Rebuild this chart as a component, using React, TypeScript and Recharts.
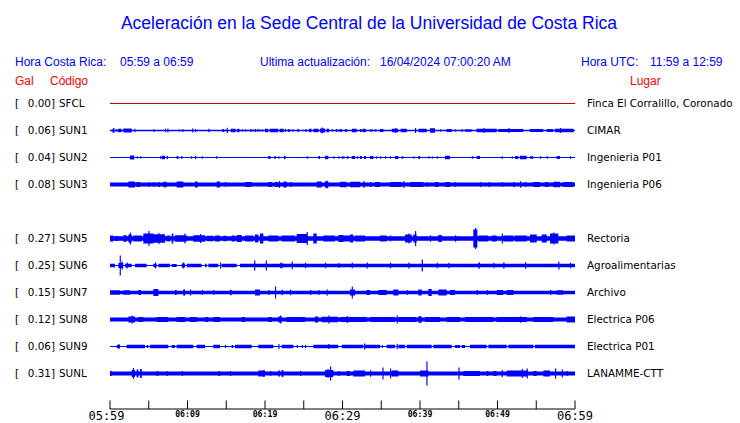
import React from 'react'
import { ComposedChart, Area, XAxis, YAxis } from 'recharts'

const title = 'Aceleración en la Sede Central de la Universidad de Costa Rica'
const localRange = '05:59 a 06:59'
const utcRange = '11:59 a 12:59'
const updated = '16/04/2024 07:00:20 AM'

const codes = ['SFCL', 'SUN1', 'SUN2', 'SUN3', 'SUN5', 'SUN6', 'SUN7', 'SUN8', 'SUN9', 'SUNL']
const rows = [0, 1, 2, 3, 5, 6, 7, 8, 9, 10]
const gal = ['0.00', '0.06', '0.04', '0.08', '0.27', '0.25', '0.15', '0.12', '0.06', '0.31']
const places = ['Finca El Corralillo, Coronado', 'CIMAR', 'Ingenieria P01', 'Ingenieria P06', 'Rectoria',
  'Agroalimentarias', 'Archivo', 'Electrica P06', 'Electrica P01', 'LANAMME-CTT']
// half width of the quiet trace
const base = [0.5, 0.7, 0.6, 2.0, 2.3, 0.6, 1.7, 1.9, 0.6, 2.0]

// trace envelope: [from, to, half amplitude] or [time, half amplitude] for a single spike
// time in minutes after 05:59
const sfcl: number[][] = []
const sun1: number[][] = [
  [0.3, 0.55, 1.7], [0.43, 2.5], [0.75, 0.86, 1.5], [1.0, 1.5, 1.7], [1.72, 2.8, 2.0], [3.14, 1.8],
  [5.6, 5.8, 1.3], [7.1, 7.2, 2.0], [7.4, 2.0], [8.9, 9.0, 1.3], [9.35, 1.5], [10.6, 2.0], [10.97, 1.5], [12.7, 1.8],
  [14.5, 14.75, 1.5], [15.05, 2.8], [15.6, 16.2, 1.8], [16.4, 16.7, 1.8], [17.0, 1.2], [17.42, 1.2], [18.1, 1.5],
  [18.35, 1.2], [18.7, 1.5], [18.97, 1.2], [19.2, 1.2], [19.57, 1.3],
  [20.0, 20.4, 1.7], [20.6, 21.7, 1.8], [21.9, 22.4, 1.7], [22.58, 1.5], [23.0, 23.2, 1.6], [23.5, 1.2], [24.2, 1.8],
  [25.2, 25.4, 1.3], [25.7, 26.0, 1.7], [26.25, 26.9, 1.8], [27.1, 27.75, 2.0], [27.3, 3.0], [27.95, 28.25, 1.7],
  [28.6, 1.3], [29.15, 1.5], [29.46, 1.3],
  [29.68, 29.9, 1.5], [30.33, 30.54, 1.5], [31.2, 31.83, 1.7], [32.26, 32.48, 1.5], [32.6, 33.0, 1.7], [33.55, 1.3],
  [33.77, 1.3], [34.2, 1.3], [34.84, 35.27, 1.5], [36.35, 37.2, 1.8], [36.8, 2.5], [37.5, 38.28, 1.7], [39.36, 2.5],
  [39.8, 40.86, 1.7], [41.29, 41.94, 2.2], [42.58, 1.3], [43.44, 44.09, 1.5], [44.52, 1.3], [45.38, 1.3],
  [45.81, 46.67, 1.3], [47.3, 49.9, 1.7], [48.17, 2.5], [50.1, 53.3, 1.6], [51.4, 2.5], [54.2, 55.9, 1.6],
  [56.35, 57.2, 1.4], [57.42, 59.8, 1.8], [58.06, 2.5],
]
const sun2: number[][] = [
  [2.58, 3.14, 2.0], [3.44, 1.3], [3.87, 1.3], [6.45, 1.3], [6.67, 7.1, 1.7], [7.31, 1.7], [8.6, 8.82, 1.5],
  [9.2, 9.35, 1.5], [10.45, 1.2], [10.97, 1.5], [11.83, 1.3], [13.67, 1.3], [20.43, 20.7, 1.5], [21.2, 21.37, 1.5],
  [21.72, 1.3], [22.45, 22.65, 1.7], [25.38, 1.2], [26.88, 27.1, 1.5], [27.74, 28.17, 1.8], [28.82, 1.2], [29.46, 1.2],
  [29.9, 1.2], [30.11, 1.2], [30.54, 30.76, 1.3], [31.19, 31.62, 1.6], [31.83, 1.3], [32.26, 32.48, 1.5],
  [32.78, 33.03, 1.5], [33.55, 33.98, 1.5], [34.33, 1.3], [34.84, 1.3], [35.49, 1.3], [36.13, 1.3],
  [36.78, 37.21, 1.6], [37.64, 37.85, 1.3], [39.14, 1.3], [39.79, 40.0, 1.5], [41.08, 1.2], [41.51, 1.2], [42.15, 1.2],
  [43.23, 43.87, 1.7], [46.67, 46.88, 1.3], [47.31, 47.74, 1.5], [50.54, 1.3], [51.83, 1.2], [52.26, 52.69, 1.5],
  [52.9, 53.77, 1.8], [54.19, 54.63, 1.3], [55.49, 1.2], [56.35, 1.2], [57.63, 58.06, 1.5], [59.35, 1.2],
]
const sun3: number[][] = [
  [2.37, 3.23, 3.0], [3.44, 3.87, 2.6], [4.95, 2.6], [5.59, 2.6], [6.24, 6.45, 2.6], [6.88, 7.31, 2.7],
  [8.6, 9.46, 3.0], [10.97, 11.3, 3.0], [13.76, 14.19, 3.0], [14.84, 2.6], [17.42, 18.28, 2.6], [20.43, 20.86, 2.6],
  [21.29, 21.72, 2.6], [21.8, 3.6], [22.37, 22.8, 3.0], [23.23, 23.44, 2.6], [26.67, 27.31, 3.0], [27.74, 28.17, 3.2],
  [27.96, 3.8], [29.68, 30.54, 2.8], [30.97, 32.26, 2.8], [32.69, 3.6], [33.55, 2.6], [34.2, 34.84, 2.6],
  [36.13, 37.64, 2.6], [37.85, 3.5], [38.71, 40.43, 2.6], [40.86, 2.6], [41.94, 42.37, 2.6], [43.23, 43.87, 2.6],
  [44.52, 2.6], [47.74, 2.6], [48.82, 2.6], [50.54, 2.6], [52.04, 52.26, 2.6], [52.9, 3.2], [53.55, 2.6],
  [54.63, 55.49, 2.6], [56.13, 56.56, 2.6], [57.2, 58.06, 2.8], [58.49, 59.78, 2.6],
]
const sun5: number[][] = [
  [0, 0.43, 3.0], [0.65, 1.08, 2.6], [1.72, 2.15, 3.3], [2.37, 2.8, 4.0], [2.55, 6.0], [3.01, 4.09, 3.0],
  [4.3, 5.59, 5.0], [4.95, 7.5], [5.59, 7.1, 4.3], [6.24, 5.5], [7.31, 7.74, 3.0], [7.96, 8.17, 5.0], [8.39, 9.89, 3.3],
  [9.6, 5.0], [10.75, 12.26, 3.3], [11.61, 4.5], [12.47, 13.33, 2.8], [13.55, 14.19, 3.0], [14.62, 15.05, 2.8],
  [15.7, 16.13, 3.0], [16.34, 16.99, 3.5], [17.42, 18.49, 3.0], [18.71, 19.14, 4.0], [19.35, 19.78, 5.0],
  [20.43, 21.72, 3.0], [22.15, 23.87, 3.0], [24.09, 25.38, 4.5], [25.38, 6.5], [26.24, 26.67, 5.0],
  [27.53, 29.03, 3.0], [29.46, 30.11, 3.5], [30.11, 30.97, 3.0], [30.97, 31.4, 4.0], [31.62, 32.91, 3.0],
  [34.84, 35.7, 3.0], [36.13, 3.0], [38.07, 38.93, 4.0], [38.5, 5.0], [39.14, 39.57, 4.0], [39.36, 7.5], [41.29, 3.2],
  [42.37, 42.8, 3.5], [44.52, 3.2], [46.88, 47.4, 9.0], [47.1, 10.5], [47.53, 48.82, 3.0], [49.25, 49.89, 3.0],
  [50.54, 5.0], [50.75, 52.04, 3.0], [52.26, 53.77, 3.0], [54.19, 55.06, 4.0], [55.7, 56.35, 4.0],
  [56.77, 57.85, 5.0], [57.2, 6.0], [58.92, 60, 3.0],
]
const sun6: number[][] = [
  [0, 0.65, 1.8], [1.08, 1.72, 2.5], [1.25, 10.0], [1.5, 4.0], [1.94, 2.8, 1.8], [2.15, 3.0], [3.23, 4.73, 1.8],
  [5.59, 6.02, 1.8], [5.81, 3.0], [6.24, 7.74, 1.8], [7.96, 8.6, 1.5], [9.25, 9.68, 2.0], [9.4, 3.0],
  [9.89, 11.83, 1.8], [12.26, 12.47, 1.8], [12.69, 13.98, 1.8], [14.19, 3.0], [14.41, 16.34, 1.8],
  [16.77, 60, 1.8], [18.6, 5.0], [20.1, 5.0], [21.94, 2.8], [22.15, 2.8], [23.44, 4.0], [25.16, 2.8], [27.74, 2.8],
  [29.46, 2.4], [31.19, 2.8], [33.12, 3.0], [36.13, 2.8], [38.5, 3.0], [40.22, 6.0], [42.15, 2.8], [43.66, 2.8],
  [47.53, 47.74, 3.0], [49.46, 2.8], [50.75, 3.2], [53.55, 3.2], [57.85, 4.0], [59.35, 2.8],
]
const sun7: number[][] = [
  [0, 1.29, 2.2], [1.72, 2.58, 2.2], [3.66, 4.0, 2.5], [5.59, 6.24, 3.5], [8.39, 8.6, 2.5], [9.46, 9.68, 3.2],
  [10.32, 3.0], [11.83, 2.5], [13.33, 2.5], [15.48, 15.7, 2.8], [18.71, 19.35, 3.0], [20.43, 2.5], [21.29, 6.0],
  [22.15, 2.8], [23.23, 2.8], [25.81, 2.5], [26.88, 2.5], [27.96, 3.0], [30.97, 31.62, 3.0], [31.19, 6.0],
  [33.12, 33.55, 2.5], [34.63, 35.7, 2.5], [36.56, 37.21, 3.0], [38.28, 2.5], [39.79, 40.22, 3.0],
  [41.08, 41.51, 3.5], [42.37, 43.44, 3.0], [43.87, 44.52, 2.5], [47.31, 2.5], [48.6, 2.5], [49.89, 50.75, 2.5],
  [51.19, 52.04, 2.5], [56.77, 2.5], [57.63, 58.49, 2.2],
]
const sun8: number[][] = [
  [2.37, 3.23, 3.0], [2.8, 4.0], [3.66, 4.3, 2.5], [6.02, 7.53, 2.5], [8.6, 9.68, 2.5], [10.32, 11.18, 2.5],
  [12.26, 12.69, 2.4], [13.33, 14.19, 2.5], [16.99, 17.42, 2.4], [20.43, 20.86, 2.4], [21.72, 22.15, 3.0],
  [21.94, 4.0], [22.8, 25.16, 2.5], [26.45, 26.88, 3.0], [27.31, 29.46, 2.8], [28.17, 4.0], [29.68, 33.12, 2.5],
  [30.54, 3.5], [33.55, 36.78, 2.5], [36.99, 4.0], [37.21, 39.57, 2.5], [39.79, 40.22, 3.2], [40.65, 42.58, 2.5],
  [43.44, 45.16, 2.5], [45.81, 49.46, 2.5], [49.89, 53.77, 2.5], [52.9, 3.2], [54.63, 57.2, 2.5], [58.92, 60, 3.0],
]
const sun9: number[][] = [
  [0.86, 1.29, 1.5], [1.08, 2.5], [2.15, 4.52, 1.7], [4.73, 4.95, 1.5], [5.16, 7.53, 1.7], [7.96, 8.39, 1.5],
  [8.6, 10.75, 1.7], [11.18, 12.26, 1.7], [13.33, 14.19, 1.7], [14.84, 1.5], [15.7, 15.91, 1.5], [16.13, 18.28, 1.7],
  [19.14, 21.08, 1.7], [21.72, 2.5], [22.15, 23.66, 1.7], [24.09, 1.5], [24.73, 1.5], [25.16, 1.5],
  [26.24, 29.46, 1.7], [28.17, 2.5], [29.89, 32.69, 1.7], [32.78, 3.0], [32.91, 34.84, 1.7], [35.06, 1.5],
  [35.7, 36.78, 1.7], [36.99, 2.8], [37.21, 38.07, 1.7], [38.28, 41.51, 1.7], [41.72, 44.09, 1.7],
  [44.52, 45.16, 1.5], [45.38, 45.81, 1.5], [46.45, 48.6, 1.7], [48.82, 51.19, 1.7], [51.4, 54.63, 1.7],
  [54.84, 60, 1.7],
]
const sunl: number[][] = [
  [0, 0.21, 2.5], [2.8, 3.23, 3.5], [2.95, 5.5], [3.44, 3.66, 4.0], [3.87, 4.09, 4.5], [6.02, 6.24, 2.5], [7.31, 2.5],
  [9.25, 2.5], [13.98, 14.19, 2.5], [15.48, 2.5], [19.14, 20.0, 3.0], [19.78, 3.5], [20.65, 2.5], [21.72, 21.94, 3.0],
  [22.15, 22.37, 3.5], [24.52, 2.5], [27.74, 28.82, 3.5], [28.05, 4.5], [28.39, 7.0], [29.46, 2.5],
  [30.54, 30.97, 2.5], [31.4, 32.91, 3.0], [33.55, 3.2], [35.15, 6.0], [36.13, 5.0], [36.35, 37.21, 3.0],
  [40.0, 41.08, 3.0], [40.82, 12.0], [44.95, 6.0], [45.59, 47.74, 2.6], [48.6, 48.82, 2.6], [49.46, 49.89, 2.6],
  [50.54, 3.5], [51.19, 53.77, 3.0], [53.12, 4.5], [53.77, 5.0], [54.63, 55.06, 2.6], [55.92, 56.77, 3.0],
  [57.42, 5.0], [58.28, 4.0], [58.92, 2.6],
]
const events = [sfcl, sun1, sun2, sun3, sun5, sun6, sun7, sun8, sun9, sunl]

const timeTicks = [0, 5, 10, 15, 20, 25, 30, 35, 40, 45, 50, 55, 60]
const timeLabels = ['05:59', '', '06:09', '', '06:19', '', '06:29', '', '06:39', '', '06:49', '', '06:59']
const bigLabels = ['05:59', '06:29', '06:59']

const ROW = 27
const SPIKE = 0.15
const rowTicks = rows.map(r => r * ROW)

const spans = events.map(list => list.map(e => (e.length === 2 ? [e[0], e[0] + SPIKE, e[1]] : e)))
const breaks = Array.from(new Set([0, 60, ...spans.flat().flatMap(s => [s[0], s[1]])])).sort((a, b) => a - b)
const level = (i: number, t: number) =>
  spans[i].reduce((m, s) => (t >= s[0] && t < s[1] ? Math.max(m, s[2]) : m), base[i])

const data = breaks.map(t => {
  const row: Record<string, any> = { t }
  codes.forEach((c, i) => {
    const a = level(i, t)
    const y = rows[i] * ROW
    row[c] = [y - a, y + a]
  })
  return row
})

const label = { fontFamily: 'DejaVu Sans', fontSize: 10.4, fill: '#000' }

const CodeTick = (p: any) => {
  const i = rowTicks.indexOf(p.payload.value)
  if (i < 0) return <g />
  return (
    <g>
      <text x={15} y={p.y + 3.5} {...label}>[</text>
      <text x={55} y={p.y + 3.5} textAnchor="end" {...label}>{gal[i]}]</text>
      <text x={59} y={p.y + 3.5} {...label}>{codes[i]}</text>
    </g>
  )
}

const PlaceTick = (p: any) => {
  const i = rowTicks.indexOf(p.payload.value)
  if (i < 0) return <g />
  return <text x={587} y={p.y + 3.5} {...label}>{places[i]}</text>
}

const TimeTick = (p: any) => {
  const i = timeTicks.indexOf(p.payload.value)
  const txt = timeLabels[i]
  const big = bigLabels.includes(txt)
  return (
    <g>
      <line x1={p.x} x2={p.x} y1={p.y} y2={p.y - 8.5} stroke="#000" />
      {txt && (
        <text x={p.x - (i === 0 ? 3.5 : 0)} y={p.y + (big ? 11 : 8.3)} textAnchor="middle" fontFamily="DejaVu Sans Mono"
          fontSize={big ? 12 : 8.2} fontWeight={big ? 'normal' : 'bold'} fill="#000">{txt}</text>
      )}
    </g>
  )
}

const App = () => {
  return (
    <div style={{ position: 'absolute', left: 0, top: 0, width: 740, height: 423, background: '#fff' }}>
      <ComposedChart width={740} height={423} data={data} margin={{ top: 90.5, right: 0, bottom: 0, left: 0 }}>
        <XAxis dataKey="t" type="number" domain={[0, 60]} ticks={timeTicks} interval={0} height={14}
          tickSize={0} tickMargin={0} tickLine={false} axisLine={{ stroke: '#000' }} tick={(p: any) => <TimeTick {...p} />}
          allowDataOverflow />
        <YAxis yAxisId="left" type="number" domain={[-13, 305.5]} reversed width={110} ticks={rowTicks} interval={0}
          axisLine={false} tickLine={false} tick={(p: any) => <CodeTick {...p} />} allowDataOverflow />
        <YAxis yAxisId="right" orientation="right" type="number" domain={[-13, 305.5]} reversed width={165}
          ticks={rowTicks} interval={0} axisLine={false} tickLine={false} tick={(p: any) => <PlaceTick {...p} />}
          allowDataOverflow />
        {codes.map((c, i) => (
          <Area key={c} yAxisId="left" dataKey={c} type="stepAfter" stroke="none"
            fill={i === 0 ? '#cc0000' : '#0000ff'} fillOpacity={1} dot={false} activeDot={false}
            isAnimationActive={false} />
        ))}
      </ComposedChart>
      <svg width={740} height={423} style={{ position: 'absolute', left: 0, top: 0, pointerEvents: 'none' }}>
        <text x={369} y={29} textAnchor="middle" fontFamily="Liberation Sans" fontSize={17.5} fill="#0000ff">{title}</text>
        <g fontFamily="Liberation Sans" fontSize={12} fill="#0000ff">
          <text x={15} y={65.5}>Hora Costa Rica:</text>
          <text x={120} y={65.5}>{localRange}</text>
          <text x={260} y={65.5}>Ultima actualización:</text>
          <text x={380} y={65.5}>{updated}</text>
          <text x={581} y={65.5}>Hora UTC:</text>
          <text x={650} y={65.5}>{utcRange}</text>
        </g>
        <g fontFamily="Liberation Sans" fontSize={12} fill="#ff0000">
          <text x={15} y={85}>Gal</text>
          <text x={50} y={85}>Código</text>
          <text x={630} y={85}>Lugar</text>
        </g>
      </svg>
    </div>
  )
}

export default App
